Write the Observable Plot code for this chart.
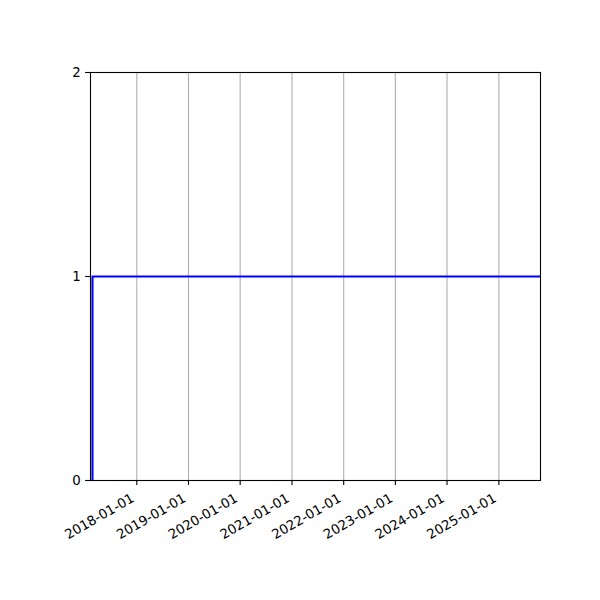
<!DOCTYPE html>
<html>
<head>
<meta charset="utf-8">
<script src="https://cdn.jsdelivr.net/npm/d3@7"></script>
<script src="https://cdn.jsdelivr.net/npm/@observablehq/plot@0.6"></script>
<style>
  html, body { margin: 0; padding: 0; background: #fff; }
  #chart { width: 600px; height: 600px; }
</style>
</head>
<body>
<div id="chart"></div>
<script>
// Series (step from 0 to 1 then flat)
const dates = ["2017-02-22", "2017-02-22", "2025-10-22"];
const values = [0, 1, 1];
// Axis domain and ticks
const xDomain = ["2017-02-08", "2025-10-22"];
const xTickLabels = ["2018-01-01", "2019-01-01", "2020-01-01", "2021-01-01",
                     "2022-01-01", "2023-01-01", "2024-01-01", "2025-01-01"];
const yTicks = [0, 1, 2];

const data = dates.map((d, i) => ({date: new Date(d), value: values[i]}));
const xTicks = xTickLabels.map(s => new Date(s));

const chart = Plot.plot({
  width: 600,
  height: 600,
  marginLeft: 90,
  marginRight: 60,
  marginTop: 72,
  marginBottom: 120,
  style: {fontFamily: "DejaVu Sans", fontSize: "13.4px", background: "#fff", color: "#000", overflow: "visible"},
  x: {type: "utc", domain: xDomain.map(s => new Date(s))},
  y: {domain: [0, 2]},
  marks: [
    Plot.gridX(xTicks, {stroke: "#b0b0b0", strokeOpacity: 1, strokeWidth: 1.1}),
    Plot.line(data, {x: "date", y: "value", stroke: "#0000ff", strokeWidth: 2.1, clip: true}),
    Plot.frame({stroke: "#000", strokeWidth: 1.1}),
    Plot.axisY({ticks: yTicks, tickSize: 4.9, tickPadding: 4.9, tickFormat: d => String(d), label: null, fontSize: 13.4, strokeWidth: 1.1}),
    Plot.axisX({ticks: xTicks, tickSize: 4.9, tickFormat: () => "", label: null, strokeWidth: 1.1}),
    Plot.text(xTicks, {
      x: d => d,
      frameAnchor: "bottom",
      text: (d, i) => xTickLabels[i],
      rotate: -30,
      textAnchor: "end",
      lineAnchor: "bottom",
      dx: -1.6,
      dy: 20.3,
      fontSize: 13.3,
      fill: "#000"
    })
  ]
});
document.getElementById("chart").appendChild(chart);
</script>
</body>
</html>
